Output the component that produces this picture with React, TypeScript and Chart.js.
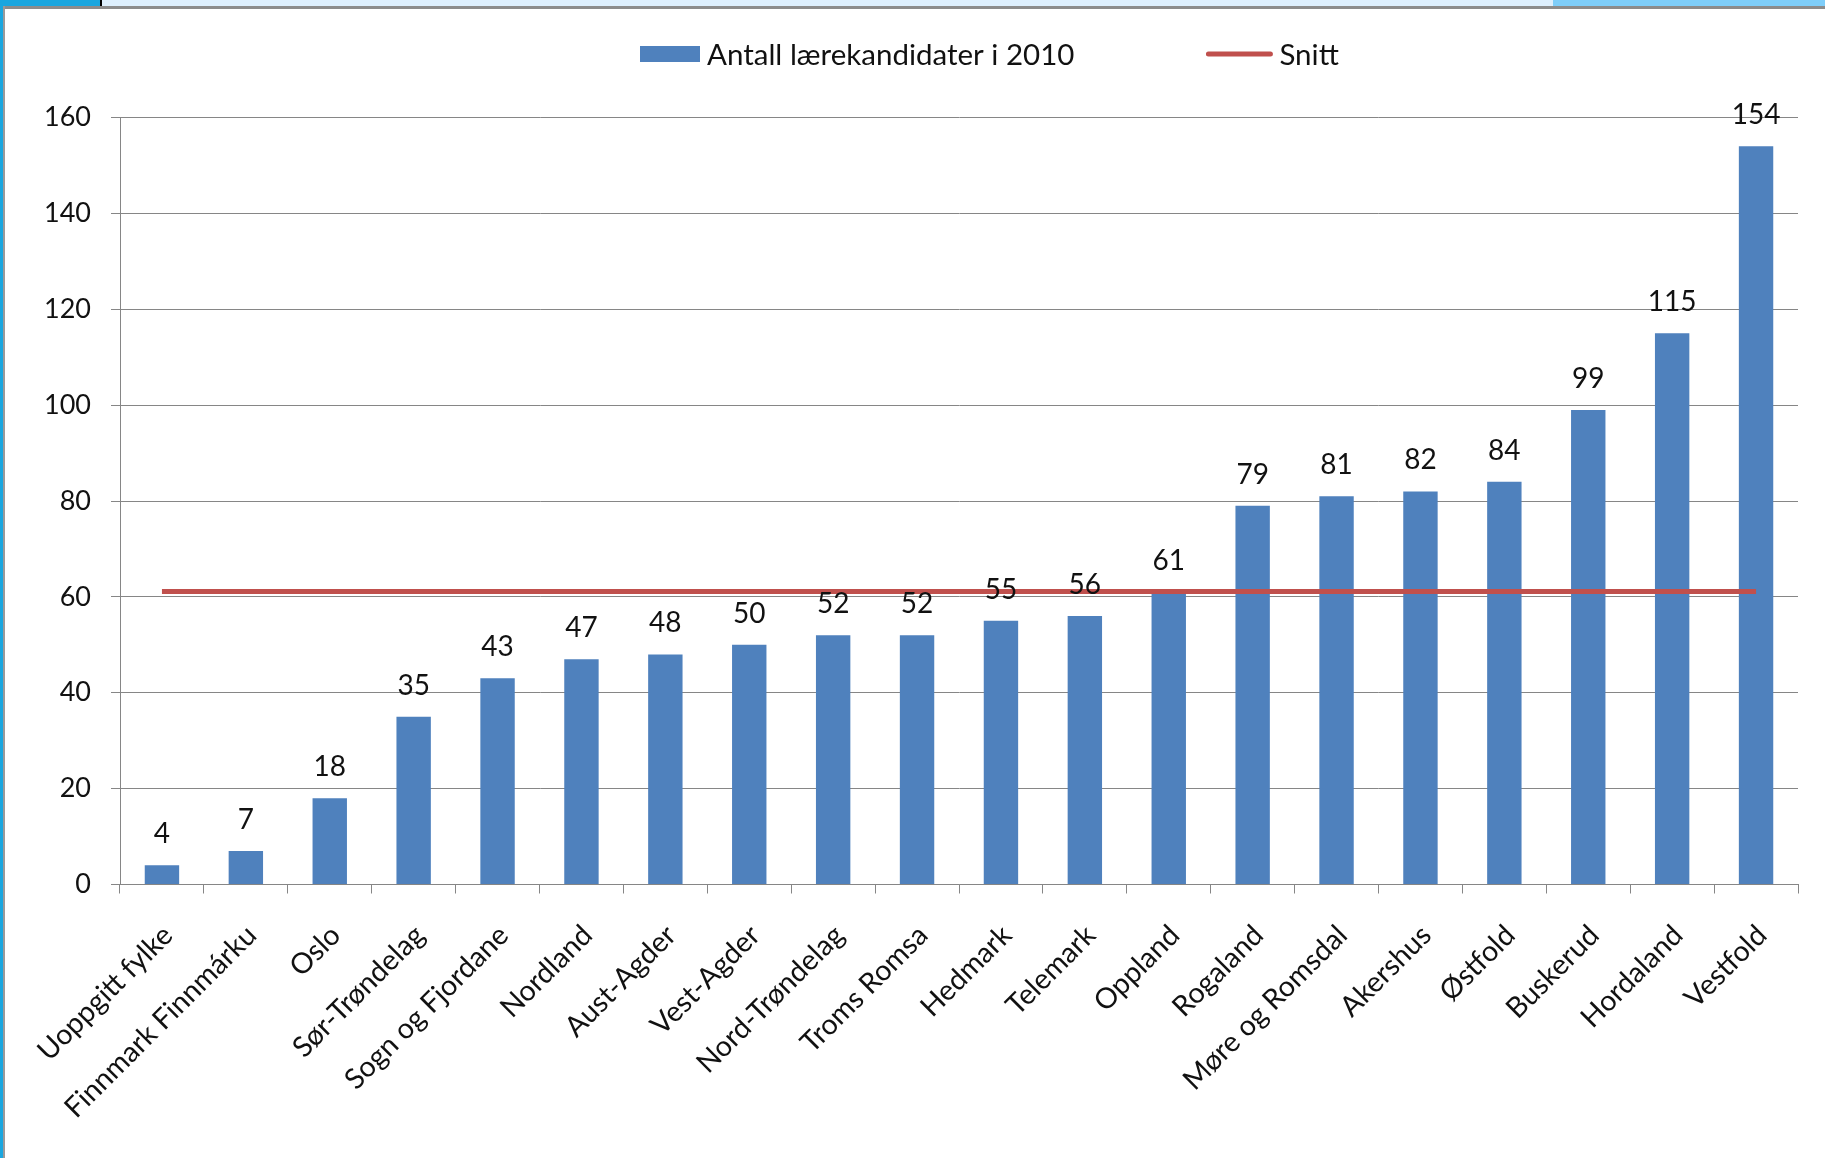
import React, { useEffect, useRef } from "react";
import { Chart, registerables } from "chart.js";

Chart.register(...registerables);

const categories = [
  "Uoppgitt fylke",
  "Finnmark Finnmárku",
  "Oslo",
  "Sør-Trøndelag",
  "Sogn og Fjordane",
  "Nordland",
  "Aust-Agder",
  "Vest-Agder",
  "Nord-Trøndelag",
  "Troms Romsa",
  "Hedmark",
  "Telemark",
  "Oppland",
  "Rogaland",
  "Møre og Romsdal",
  "Akershus",
  "Østfold",
  "Buskerud",
  "Hordaland",
  "Vestfold",
];

const candidates2010 = [4, 7, 18, 35, 43, 47, 48, 50, 52, 52, 55, 56, 61, 79, 81, 82, 84, 99, 115, 154];

const average = [
  61.1, 61.1, 61.1, 61.1, 61.1, 61.1, 61.1, 61.1, 61.1, 61.1,
  61.1, 61.1, 61.1, 61.1, 61.1, 61.1, 61.1, 61.1, 61.1, 61.1,
];

const barLabel = "Antall lærekandidater i 2010";
const lineLabel = "Snitt";

const yMin = 0;
const yMax = 160;
const yStep = 20;

const FONT = "Lato";
const BAR_COLOR = "#4F81BD";
const LINE_COLOR = "#C0504D";
const GRID = "#868686";
const TEXT = "#111";

const valueLabelsPlugin = {
  id: "valueLabels",
  afterDatasetsDraw(chart: any) {
    const idx = chart.data.datasets.findIndex((d: any) => d.type === "bar");
    const meta = chart.getDatasetMeta(idx);
    const data = chart.data.datasets[idx].data;
    const ctx = chart.ctx;
    ctx.save();
    ctx.font = `28px ${FONT}`;
    ctx.fillStyle = TEXT;
    ctx.textAlign = "center";
    ctx.textBaseline = "alphabetic";
    meta.data.forEach((bar: any, i: number) => {
      ctx.fillText(String(data[i]), bar.x, bar.y - 22);
    });
    ctx.restore();
  },
};

const customLegendPlugin = {
  id: "customLegend",
  afterDraw(chart: any) {
    const ctx = chart.ctx;
    const ds = chart.data.datasets;
    const bar = ds.find((d: any) => d.type === "bar");
    const line = ds.find((d: any) => d.type === "line");
    ctx.save();
    ctx.font = `29.5px ${FONT}`;
    ctx.textBaseline = "middle";
    ctx.textAlign = "left";
    const cy = 54;
    const boxW = 60;
    const boxH = 16;
    const lineW = 66;
    const gapText = 7;
    const gapItems = 132;
    const w1 = ctx.measureText(bar.label).width;
    let x = 640;
    ctx.fillStyle = bar.backgroundColor;
    ctx.fillRect(x, cy - boxH / 2, boxW, boxH);
    x += boxW + gapText;
    ctx.fillStyle = TEXT;
    ctx.fillText(bar.label, x, cy + 1);
    x += w1 + gapItems;
    ctx.strokeStyle = line.borderColor;
    ctx.lineWidth = 5;
    ctx.lineCap = "round";
    ctx.beginPath();
    ctx.moveTo(x + 2, cy);
    ctx.lineTo(x + lineW - 2, cy);
    ctx.stroke();
    x += lineW + gapText;
    ctx.fillStyle = TEXT;
    ctx.fillText(line.label, x, cy + 1);
    ctx.restore();
  },
};

export default function App() {
  const canvasRef = useRef<HTMLCanvasElement | null>(null);

  useEffect(() => {
    const canvas = canvasRef.current;
    if (!canvas) return;
    const chart = new Chart(canvas, {
      data: {
        labels: categories,
        datasets: [
          {
            type: "line",
            label: lineLabel,
            data: average,
            borderColor: LINE_COLOR,
            backgroundColor: LINE_COLOR,
            borderWidth: 5,
            pointRadius: 0,
            pointHoverRadius: 0,
            tension: 0,
            order: 0,
          } as any,
          {
            type: "bar",
            label: barLabel,
            data: candidates2010,
            backgroundColor: BAR_COLOR,
            borderWidth: 0,
            barPercentage: 0.41,
            categoryPercentage: 1,
            order: 1,
          } as any,
        ],
      },
      options: {
        responsive: false,
        animation: false,
        layout: { padding: { top: 117.5, right: 27, bottom: 0, left: 0 } },
        plugins: {
          legend: { display: false },
          tooltip: { enabled: false },
          title: { display: false },
        },
        scales: {
          x: {
            type: "category",
            offset: true,
            grid: {
              display: true,
              offset: true,
              drawOnChartArea: false,
              drawTicks: true,
              tickLength: 9,
              color: GRID,
              lineWidth: 1,
            },
            border: { display: true, color: GRID, width: 1 },
            ticks: {
              font: { family: FONT, size: 28.5 },
              color: TEXT,
              minRotation: 45,
              maxRotation: 45,
              autoSkip: false,
              padding: 25,
              labelOffset: 6,
            },
            afterFit(scale: any) {
              scale.height = 273.5;
            },
          },
          y: {
            min: yMin,
            max: yMax,
            grid: {
              color: GRID,
              lineWidth: 1,
              drawTicks: true,
              tickLength: 9,
            },
            border: { display: true, color: GRID, width: 1 },
            ticks: {
              stepSize: yStep,
              font: { family: FONT, size: 27 },
              color: TEXT,
              padding: 20,
            },
            afterFit(scale: any) {
              scale.width = 120;
            },
          },
        },
      },
      plugins: [valueLabelsPlugin, customLegendPlugin],
    } as any);
    return () => chart.destroy();
  }, []);

  return (
    <div
      style={{
        position: "absolute",
        left: 0,
        top: 0,
        width: 1825,
        height: 1158,
        background: "#fff",
        overflow: "hidden",
      }}
    >
      <canvas
        ref={canvasRef}
        width={1825}
        height={1158}
        style={{ position: "absolute", left: 0, top: 0, width: 1825, height: 1158 }}
      />
      <div style={{ position: "absolute", left: 0, top: 0, width: 100, height: 6, background: "#1AA6DF" }} />
      <div style={{ position: "absolute", left: 100, top: 0, width: 2, height: 6, background: "#000" }} />
      <div style={{ position: "absolute", left: 102, top: 0, width: 1451, height: 6, background: "#DDEFFD" }} />
      <div style={{ position: "absolute", left: 1553, top: 0, width: 272, height: 6, background: "#7ECEFA" }} />
      <div style={{ position: "absolute", left: 3, top: 6, width: 1822, height: 3, background: "#8C8C8C" }} />
      <div style={{ position: "absolute", left: 0, top: 0, width: 3, height: 1158, background: "#1AA6DF" }} />
      <div style={{ position: "absolute", left: 3, top: 6, width: 2, height: 1152, background: "#9A9A9A" }} />
    </div>
  );
}
